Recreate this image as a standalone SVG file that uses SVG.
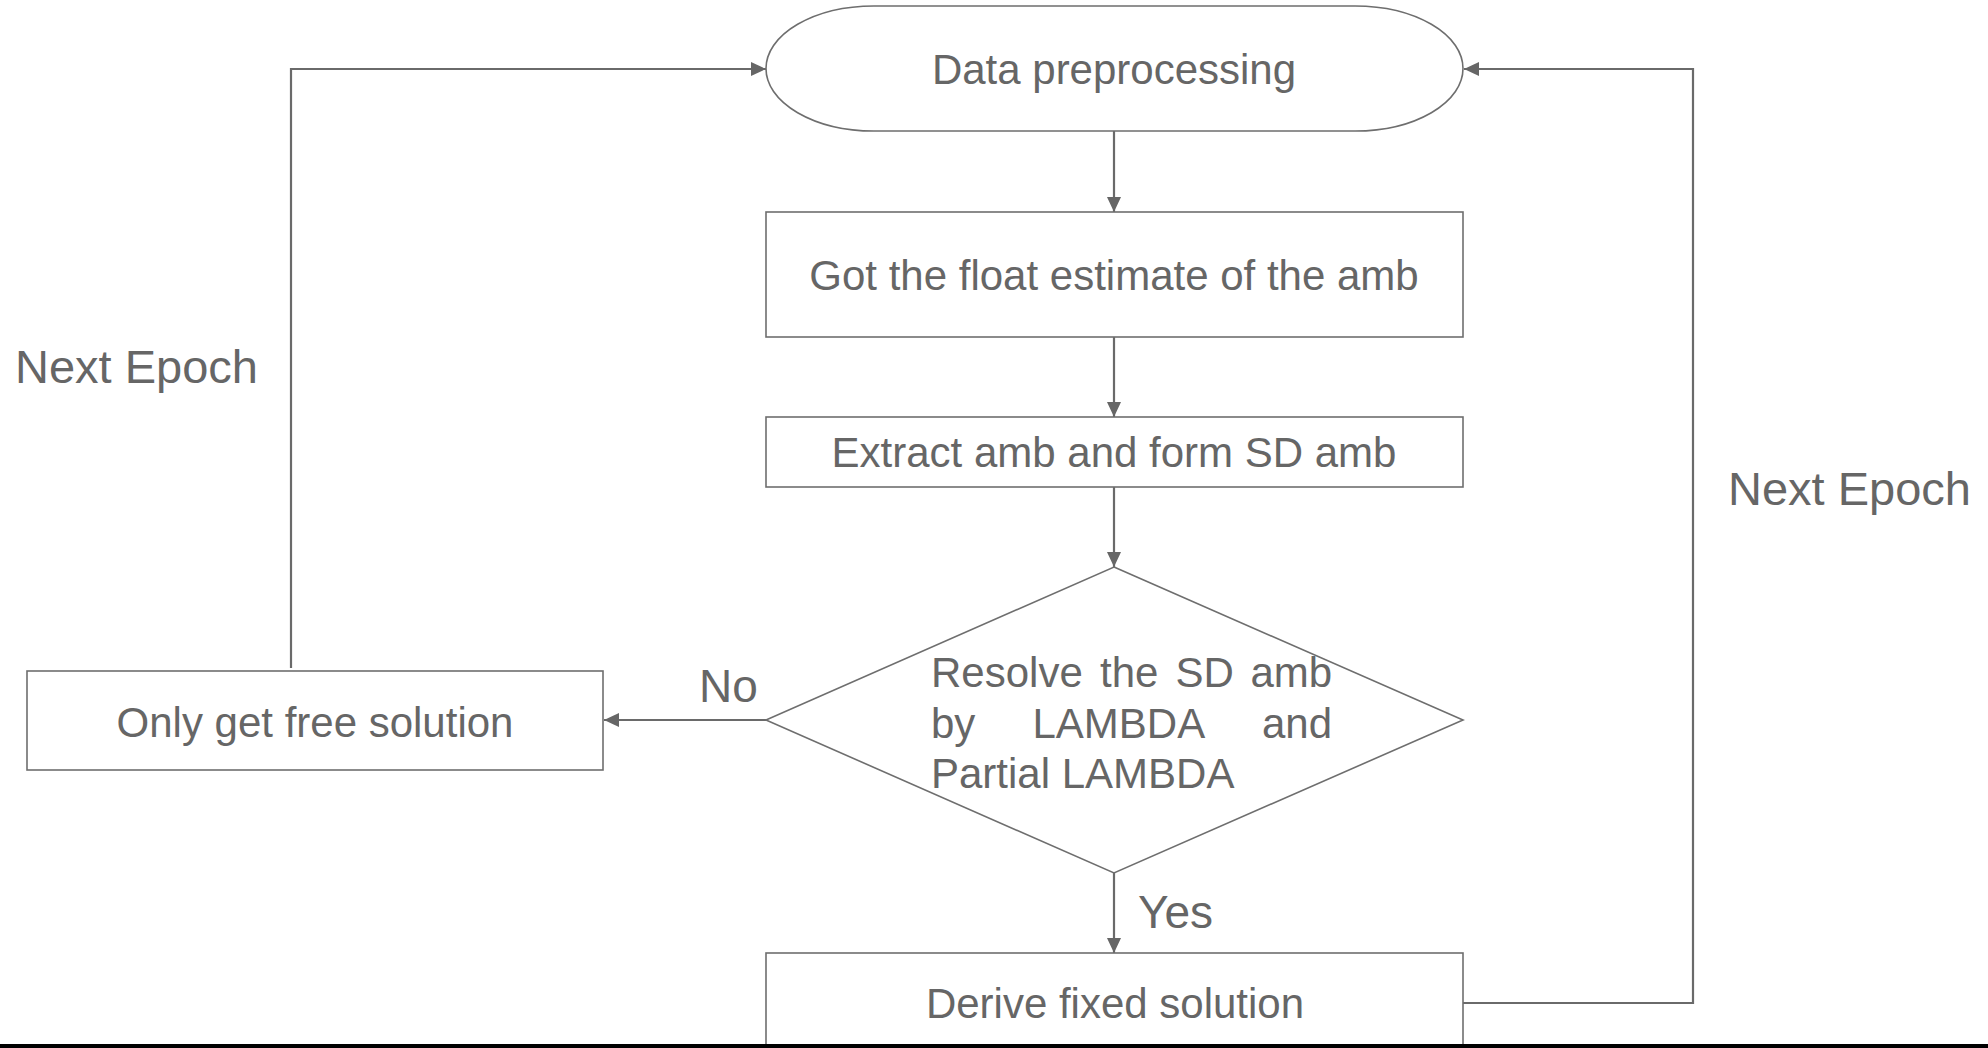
<svg xmlns="http://www.w3.org/2000/svg" width="1988" height="1048" viewBox="0 0 1988 1048">
  <style>
    .node { fill: #ffffff; stroke: #6e6e6e; stroke-width: 1.6; }
    .conn { fill: none; stroke: #6a6a6a; stroke-width: 2.2; }
    .t { font-family: "Liberation Sans", Arial, sans-serif; font-size: 42px; fill: #666666; }
    .c { text-anchor: middle; }
    .lbl { font-family: "Liberation Sans", Arial, sans-serif; font-size: 46px; fill: #666666; }
    .ep { font-family: "Liberation Sans", Arial, sans-serif; font-size: 47px; fill: #666666; }
  </style>
  <defs>
    <marker id="arrow" markerUnits="userSpaceOnUse" markerWidth="16" markerHeight="15" refX="15" refY="7" orient="auto">
      <path d="M0,0 L15,7 L0,14 z" fill="#666666"/>
    </marker>
  </defs>
  <rect x="0" y="0" width="1988" height="1048" fill="#ffffff"/>

  <g id="connectors">
    <line class="conn" x1="1114" y1="131" x2="1114" y2="212" marker-end="url(#arrow)"/>
    <line class="conn" x1="1114" y1="337" x2="1114" y2="417" marker-end="url(#arrow)"/>
    <line class="conn" x1="1114" y1="487" x2="1114" y2="567" marker-end="url(#arrow)"/>
    <line class="conn" x1="1114" y1="873" x2="1114" y2="953" marker-end="url(#arrow)"/>
    <line class="conn" x1="766" y1="720" x2="604" y2="720" marker-end="url(#arrow)"/>
    <polyline class="conn" points="291,668 291,69 766,69" marker-end="url(#arrow)"/>
    <polyline class="conn" points="1463,1003 1693,1003 1693,69 1464,69" marker-end="url(#arrow)"/>
    <text class="lbl" x="699" y="702">No</text>
    <text class="lbl" x="1138" y="928">Yes</text>
    <text class="ep" x="15" y="383">Next Epoch</text>
    <text class="ep" x="1728" y="505">Next Epoch</text>
  </g>

  <g id="start">
    <rect class="node" x="766" y="6" width="697" height="125" rx="108" ry="62.5"/>
    <text class="t c" x="1114" y="83.5">Data preprocessing</text>
  </g>

  <g id="float">
    <rect class="node" x="766" y="212" width="697" height="125"/>
    <text class="t c" x="1114" y="290">Got the float estimate of the amb</text>
  </g>

  <g id="extract">
    <rect class="node" x="766" y="417" width="697" height="70"/>
    <text class="t c" x="1114" y="467">Extract amb and form SD amb</text>
  </g>

  <g id="decision">
    <polygon class="node" points="1114,567 1463,720 1114,873 766,720"/>
    <text class="t" y="687"><tspan x="931">Resolve</tspan><tspan x="1100">the</tspan><tspan x="1175.5">SD</tspan><tspan x="1250.5">amb</tspan></text>
    <text class="t" y="738"><tspan x="931">by</tspan><tspan x="1032.5">LAMBDA</tspan><tspan x="1262">and</tspan></text>
    <text class="t" x="931" y="788">Partial LAMBDA</text>
  </g>

  <g id="free">
    <rect class="node" x="27" y="671" width="576" height="99"/>
    <text class="t c" x="315" y="737">Only get free solution</text>
  </g>

  <g id="fixed">
    <rect class="node" x="766" y="953" width="697" height="100"/>
    <text class="t c" x="1115" y="1018">Derive fixed solution</text>
  </g>

  <rect x="0" y="1044" width="1988" height="4" fill="#000000"/>
</svg>
